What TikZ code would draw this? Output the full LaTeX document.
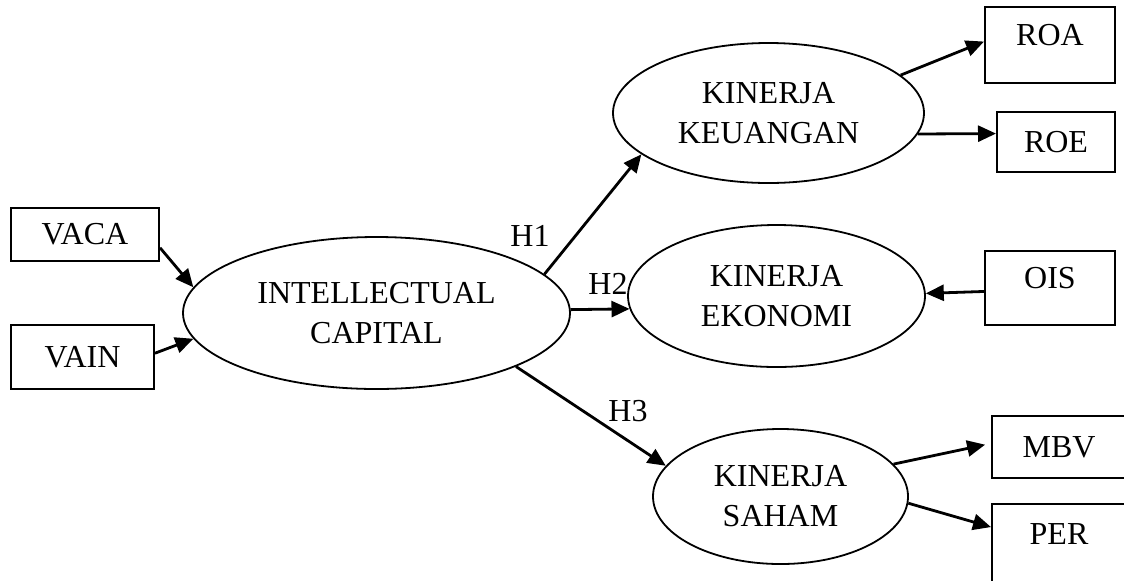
\documentclass[tikz,border=0pt]{standalone}
\usepackage{fontspec}
\setmainfont{Liberation Serif}
\usetikzlibrary{arrows.meta, shapes.geometric}

\begin{document}
\begin{tikzpicture}[x=0.5pt, y=-0.5pt]
\tikzset{
    every node/.style={align=center, font=\fontsize{16}{20}\selectfont},
    indikator/.style={draw, line width=1pt, rectangle, inner sep=0pt},
    teksatas/.style={text depth=10pt},
    konstruk/.style={draw, line width=0.9pt, ellipse, inner sep=0pt},
    panah/.style={line width=1.4pt, -{Triangle[length=9pt, width=8pt]}},
    hipotesis/.style={inner sep=0pt}
}
\useasboundingbox (0,0) rectangle (1124,580);

% konstruk
\node[konstruk, minimum width=193.5pt, minimum height=76pt] (ic) at (376.5,313) {INTELLECTUAL\\CAPITAL};
\node[konstruk, minimum width=155.5pt, minimum height=70pt] (kk) at (768.5,113) {KINERJA\\KEUANGAN};
\node[konstruk, minimum width=148.5pt, minimum height=71pt] (ke) at (776.5,296) {KINERJA\\EKONOMI};
\node[konstruk, minimum width=127.5pt, minimum height=67.5pt] (ks) at (780.5,496.5) {KINERJA\\SAHAM};

% indikator
\node[indikator, minimum width=74pt, minimum height=26.5pt] (vaca) at (85,234.5) {VACA};
\node[indikator, minimum width=71.5pt, minimum height=32pt] (vain) at (82.5,357) {VAIN};
\node[indikator, teksatas, minimum width=65pt, minimum height=38pt] (roa) at (1050,45) {ROA};
\node[indikator, minimum width=59pt, minimum height=30pt] (roe) at (1056,142) {ROE};
\node[indikator, teksatas, minimum width=65pt, minimum height=37pt] (ois) at (1050,288) {OIS};
\node[indikator, minimum width=67pt, minimum height=31pt] (mbv) at (1059,447) {MBV};
\node[indikator, teksatas, minimum width=67pt, minimum height=40pt] (per) at (1059,544) {PER};

% hipotesis
\node[hipotesis] (h1) at (530,236) {H1};
\node[hipotesis] (h2) at (608,284) {H2};
\node[hipotesis] (h3) at (628,411) {H3};

% panah
\draw[panah] (vaca.-10) -- (ic.172);
\draw[panah] (vain.3) -- (ic.188);
\draw[panah] (ic.13.6) -- (kk.198.7);
\draw[panah] (ic.1.2) -- (ke.185);
\draw[panah] (ic.-21.2) -- (ks.165.3);
\draw[panah] (kk.16.9) -- (roa.177);
\draw[panah] (kk.-8.6) -- (roe.172.3);
\draw[panah] (ois.183.5) -- (ke.1.5);
\draw[panah, shorten >=3pt] (ks.16.2) -- (mbv.177);
\draw[panah] (ks.-3.4) -- (per.166);
\end{tikzpicture}
\end{document}
